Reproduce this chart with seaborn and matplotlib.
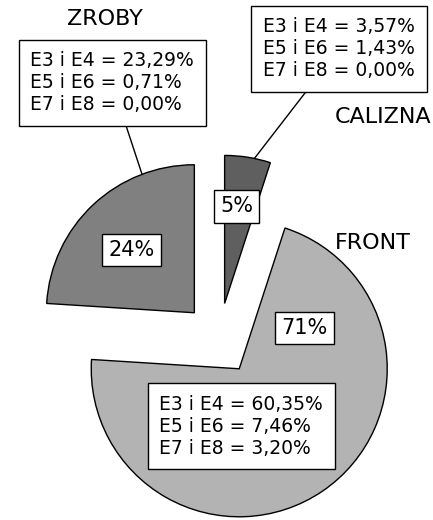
import numpy as np
import matplotlib
matplotlib.use("Agg")
import matplotlib.pyplot as plt
import seaborn as sns

# udział stref w całości (%)
categories = ["CALIZNA", "FRONT", "ZROBY"]
shares = [5.00, 71.01, 24.00]
pct_labels = ["5%", "71%", "24%"]
colors = ["#5f5f5f", "#b3b3b3", "#808080"]

# rozbicie wg klas zagrożenia
classes = ["E3 i E4", "E5 i E6", "E7 i E8"]
calizna_detail = ["3,57%", "1,43%", "0,00%"]
front_detail = ["60,35%", "7,46%", "3,20%"]
zroby_detail = ["23,29%", "0,71%", "0,00%"]

sns.set_theme(style="white")
plt.rcParams["font.family"] = ["DejaVu Sans"]
plt.rcParams["text.color"] = "black"

fig = plt.figure(figsize=(4.33, 5.2), dpi=100)
ax = fig.add_axes([0, 0, 1, 1])

# explode w pikselach (jednostki danych)
wedges, _ = ax.pie(shares, colors=colors, startangle=90, counterclock=False,
                   explode=[36] * 3, radius=148, center=(219, 181),
                   wedgeprops=dict(edgecolor="black", linewidth=1.0),
                   frame=True)
ax.set_xlim(0, 433)
ax.set_ylim(0, 520)
ax.set_aspect("equal")
ax.axis("off")


def polar(w, ang, frac):
    a = np.deg2rad(ang)
    cx, cy = w.center
    return cx + frac * w.r * np.cos(a), cy + frac * w.r * np.sin(a)


def detail_text(vals):
    return "\n".join(f"{c} = {v}" for c, v in zip(classes, vals))


box = dict(boxstyle="square,pad=0.62", facecolor="white", edgecolor="black", linewidth=1.0)
small_box = dict(boxstyle="square,pad=0.3", facecolor="white", edgecolor="black", linewidth=1.0)

w_cal, w_front, w_zr = wedges

# etykiety procentowe
pct_pos = [(w_cal, 0.5 * (w_cal.theta1 + w_cal.theta2) + 2, 0.66),
           (w_front, w_front.theta2 - 40, 0.52),
           (w_zr, 0.5 * (w_zr.theta1 + w_zr.theta2) + 2, 0.6)]
for (w, ang, frac), lab in zip(pct_pos, pct_labels):
    x, y = polar(w, ang, frac)
    ax.text(x, y, lab, ha="center", va="center", fontsize=15, bbox=small_box)

# nazwy stref
ax.text(105, 501, categories[2], ha="center", va="center", fontsize=16)
ax.text(383, 403, categories[0], ha="center", va="center", fontsize=16)
ax.text(373, 277, categories[1], ha="center", va="center", fontsize=16)

# objaśnienia z odnośnikami
kw = dict(ha="center", va="center", multialignment="left", fontsize=13.5,
          linespacing=1.2, bbox=box)
line = dict(arrowstyle="-", color="black", lw=1.0, shrinkA=0, shrinkB=0)
ax.annotate(detail_text(zroby_detail), xy=polar(w_zr, 110.7, 1.0), xytext=(112, 437),
            arrowprops=line, **kw)
ax.annotate(detail_text(calizna_detail), xy=polar(w_cal, 78.4, 1.0), xytext=(339, 471),
            arrowprops=line, **kw)
ax.text(241, 94, detail_text(front_detail), **kw)

fig.savefig("out.png", dpi=100)
